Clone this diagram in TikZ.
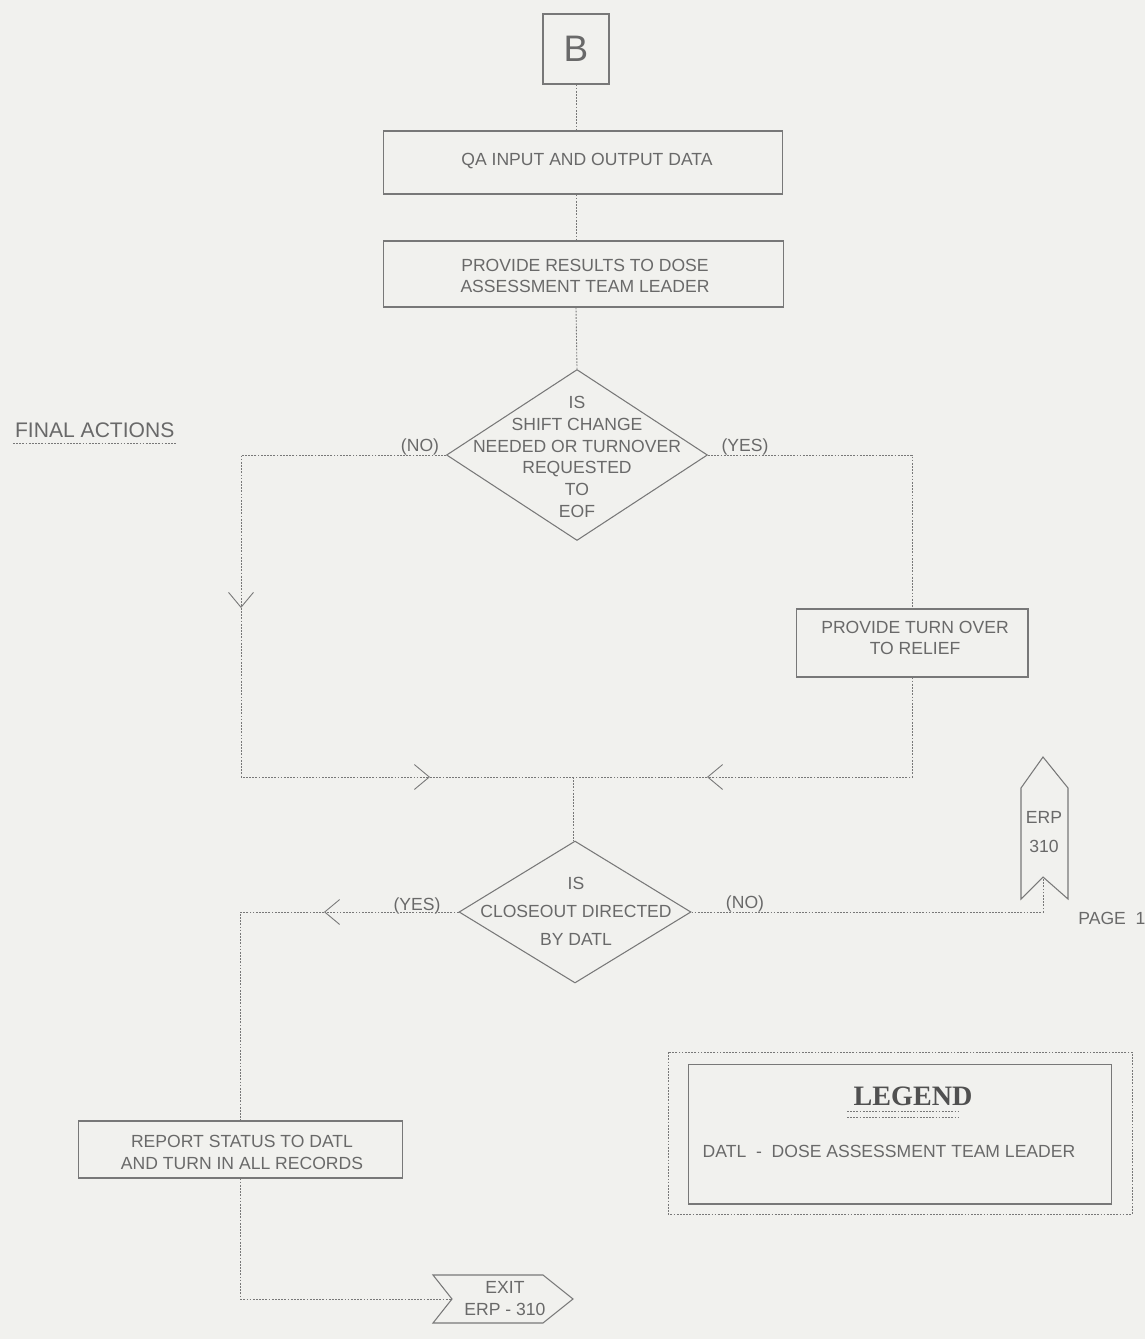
\documentclass[tikz,border=0pt]{standalone}
\usepackage{fontspec}
\setmainfont{Liberation Sans}
\newfontfamily\legendfont{Liberation Serif}
\usetikzlibrary{shapes.geometric,arrows.meta}
\definecolor{paper}{RGB}{241,241,238}
\definecolor{ink}{RGB}{120,120,120}
\definecolor{txt}{RGB}{105,105,105}
\definecolor{dark}{RGB}{80,80,80}
\begin{document}
\begin{tikzpicture}[x=0.02cm,y=-0.02cm,
  box/.style={draw=ink,line width=0.6pt,rectangle,inner sep=0pt},
  lbl/.style={text=txt,font=\fontsize{10}{12.4}\selectfont,align=center,inner sep=0pt},
  conn/.style={ink,line width=0.5pt,dash pattern=on 1pt off 0.8pt},
  arr/.style={-{Straight Barb[length=0.3cm,width=0.5cm]}},
  decision/.style={diamond,draw=ink,line width=0.6pt,inner sep=0pt},
]
% page
\path[fill=paper] (0,0) rectangle (1145,1339);

% connector B and process boxes
\node[box,minimum width=1.32cm,minimum height=1.4cm,text=txt,font=\fontsize{21}{24}\selectfont] (B) at (576,49) {B};
\node[box,minimum width=8cm,minimum height=1.26cm] (qa) at (583,162.5) {};
\node[lbl] (qat) at (587,161) {QA INPUT AND OUTPUT DATA};
\node[box,minimum width=8.02cm,minimum height=1.32cm] (res) at (583.5,274) {};
\node[lbl,font=\fontsize{10}{25}\selectfont] (rest) at (585,276) {PROVIDE RESULTS TO DOSE\\[-12.6pt]ASSESSMENT TEAM LEADER};

% section title
\node[text=txt,font=\fontsize{12}{14}\selectfont,inner sep=1pt,anchor=west] (fa) at (13,430) {FINAL ACTIONS};
\draw[conn] ([yshift=-2pt]fa.south west) -- ([yshift=-2pt]fa.south east);

% first decision
\node[decision,minimum width=5.22cm,minimum height=3.42cm] (d1) at (577,455) {};
\node[lbl] (d1t) at (577,457) {IS\\SHIFT CHANGE\\NEEDED OR TURNOVER\\REQUESTED\\TO\\EOF};
\node[lbl] (no1) at (420,447) {(NO)};
\node[lbl] (yes1) at (745,447) {(YES)};

% main flow down to the first decision
\draw[conn] (B.south) -- (B.south |- qa.north);
\draw[conn] (B.south |- qa.south) -- (B.south |- res.north);
\draw[conn] (B.south |- res.south) -- (d1.north);

% relief box
\node[box,minimum width=4.64cm,minimum height=1.36cm] (relief) at (912,643) {};
\node[lbl,font=\fontsize{10}{11.5}\selectfont] (relieft) at (915,638) {PROVIDE TURN OVER\\TO RELIEF};

% junction points
\coordinate (v1) at (241,608);
\coordinate (h1) at (430,777);
\coordinate (h2) at (707,777);
\coordinate (j1) at (573,777);

\draw[conn,arr] (d1.west) -| (v1);
\draw[conn,arr] (v1) |- (h1);
\draw[conn] (h1) -- (j1);
\draw[conn] (d1.east) -| (relief.north);
\draw[conn,arr] (relief.south) |- (h2);
\draw[conn] (h2) -- (j1);

% second decision
\node[decision,minimum width=4.64cm,minimum height=2.84cm] (d2) at (575,912) {};
\node[lbl,font=\fontsize{10}{16}\selectfont] (d2t) at (576,911) {IS\\CLOSEOUT DIRECTED\\BY DATL};
\node[lbl] (yes2) at (417,906) {(YES)};
\node[lbl] (no2) at (745,904) {(NO)};
\draw[conn] (j1) -- (j1 |- d2.north);

% off-page connector
\draw[ink,line width=0.6pt] (1043,757) -- (1068,788) -- (1068,899) -- (1043,877) -- (1021,899) -- (1021,788) -- cycle;
\coordinate (erpin) at (1043,877);
\node[lbl,font=\fontsize{10}{16}\selectfont] (erp) at (1044,832) {ERP\\310};
\node[lbl,anchor=west] (page) at (1078,918) {PAGE\ \ 1};
\draw[conn] (d2.east) -| (erpin);

% report box
\node[box,minimum width=6.5cm,minimum height=1.14cm] (report) at (240.5,1149.5) {};
\node[lbl,font=\fontsize{10}{12.5}\selectfont] (reportt) at (242,1152) {REPORT STATUS TO DATL\\AND TURN IN ALL RECORDS};
\coordinate (h3) at (324,912);
\draw[conn,arr] (d2.west) -- (h3);
\draw[conn] (h3) -| (report.north);

% exit connector
\draw[ink,line width=0.6pt] (433,1275) -- (543,1275) -- (573,1299) -- (543,1323) -- (433,1323) -- (452,1299) -- cycle;
\coordinate (exitin) at (452,1299);
\node[lbl,font=\fontsize{10}{12}\selectfont] (exit) at (505,1298.5) {EXIT\\ERP - 310};
\draw[conn] (report.south) |- (exitin);

% legend
\draw[conn] (668,1052) rectangle (1132,1214);
\node[box,minimum width=8.48cm,minimum height=2.8cm] (legend) at (900,1134) {};
\node[text=dark,font=\legendfont\bfseries\fontsize{16}{18}\selectfont,inner sep=0pt] (legt) at (913,1096) {LEGEND};
\draw[conn] (847,1111) -- (958,1111);
\draw[conn] (847,1117) -- (958,1117);
\node[lbl] (legdef) at (889,1151) {DATL\ \ -\ \ DOSE ASSESSMENT TEAM LEADER};
\end{tikzpicture}
\end{document}
